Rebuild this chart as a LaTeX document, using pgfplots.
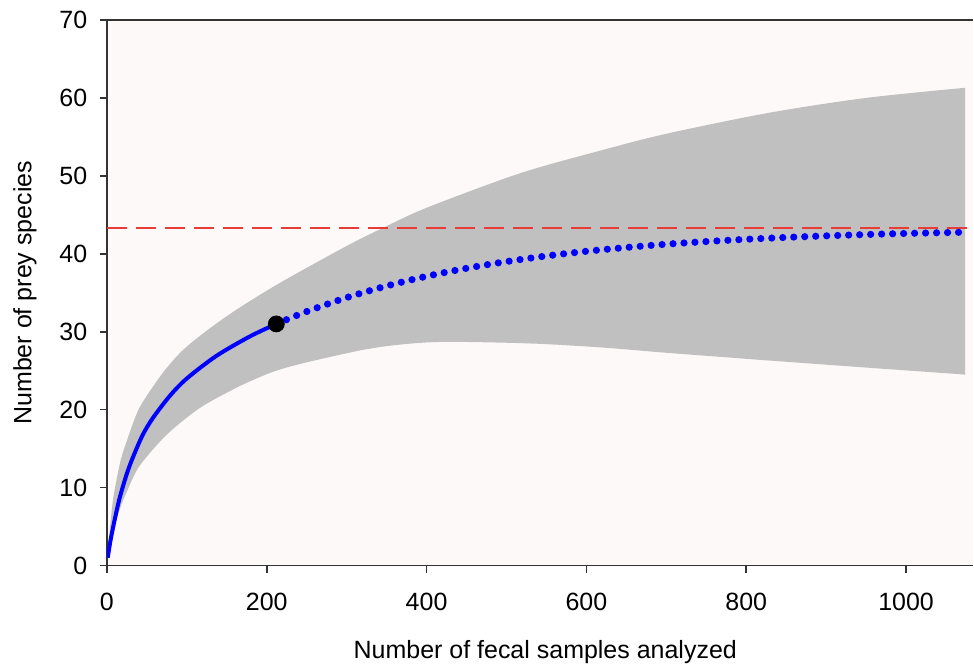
\documentclass[border=0pt]{standalone}
\usepackage{fontspec}
\setmainfont{Liberation Sans}
\usepackage{pgfplots}
\pgfplotsset{compat=1.18}
\usepgfplotslibrary{fillbetween}

\definecolor{bandgray}{RGB}{192,192,192}
\definecolor{bgpink}{RGB}{253,249,249}
\definecolor{asymred}{RGB}{232,60,55}

% rarefaction (observed part)
\pgfplotstableread{
x y
1 1
3 2.3
5 3.5
10 6
16 8.7
25 11.8
33 14
45 16.8
58 19
79 21.8
100 24
137 26.9
179 29.4
212 31
}\rarefied

% extrapolation
\pgfplotstableread{
x y
212 31.0
250 32.59
300 34.38
350 35.87
400 37.11
450 38.14
500 39.00
550 39.72
600 40.32
650 40.81
700 41.23
750 41.57
800 41.86
850 42.10
900 42.30
950 42.47
1000 42.61
1050 42.72
1074 42.77
}\extrap

% confidence band, upper edge
\pgfplotstableread{
x y
1 1.2
4 5
8 8.7
15 12.5
20 14.5
35 18.9
45 21.0
72 25.0
100 28.1
150 32.0
212 36.0
300 41.0
345 43.3
400 45.9
516 50.3
616 53.2
700 55.4
829 58.1
950 60.0
1074 61.3
}\upperci

% confidence band, lower edge
\pgfplotstableread{
x y
1 0.9
4 2.5
8 4.5
16 7.2
25 9.5
41 12.8
75 16.8
116 20.2
158 22.6
185 23.9
212 25.0
247 26.0
322 27.7
372 28.4
425 28.7
528 28.5
616 28.0
700 27.3
790 26.6
829 26.3
950 25.4
1074 24.5
}\lowerci

\begin{document}
\fontsize{12.5}{15}\selectfont
\begin{tikzpicture}
\begin{axis}[
    scale only axis,
    width=433.5pt, height=273pt,
    xmin=0, xmax=1084,
    ymin=0, ymax=70,
    axis x line*=box, axis y line*=left,
    xtick pos=left,
    xtick={0,200,...,1000},
    ytick={0,10,...,70},
    tick align=outside,
    major tick length=3.5pt,
    axis line style={line width=0.8pt, black!80},
    every tick/.style={line width=0.8pt, black!80},
    axis background/.style={fill=bgpink},
    /pgf/number format/assume math mode=true,
    /pgf/number format/set thousands separator={},
    tick label style={font=\fontsize{12.5}{15}\selectfont},
    xticklabel style={yshift=-6pt},
    yticklabel style={xshift=-2pt},
    label style={font=\fontsize{12.5}{15}\selectfont},
    every axis x label/.style={at={(axis description cs:0.506,-0.158)}, anchor=center},
    every axis y label/.style={at={(axis description cs:-0.0946,0.5)}, rotate=90, anchor=center},
    xlabel={Number of fecal samples analyzed},
    ylabel={Number of prey species},
]
\addplot[name path=upper, draw=none, smooth] table {\upperci};
\addplot[name path=lower, draw=none, smooth] table {\lowerci};
\addplot[bandgray, draw=none] fill between[of=upper and lower];

\addplot[asymred, line width=1pt, dash pattern=on 10pt off 4.5pt] coordinates {(0,43.3) (1084,43.3)};

\addplot[blue, line width=2pt, smooth] table {\rarefied};
\addplot[blue, line width=3.6pt, line cap=round, dash pattern=on 0pt off 5.5pt, smooth] table {\extrap};
\addplot[only marks, mark=*, mark size=4pt, black] coordinates {(212,31)};
\end{axis}
\path (current axis.south west) ++(-53.5pt,-51.5pt) coordinate (bl);
\path (current axis.north east) ++(0pt,10pt) coordinate (tr);
\path (bl) rectangle (tr);
\end{tikzpicture}
\end{document}
